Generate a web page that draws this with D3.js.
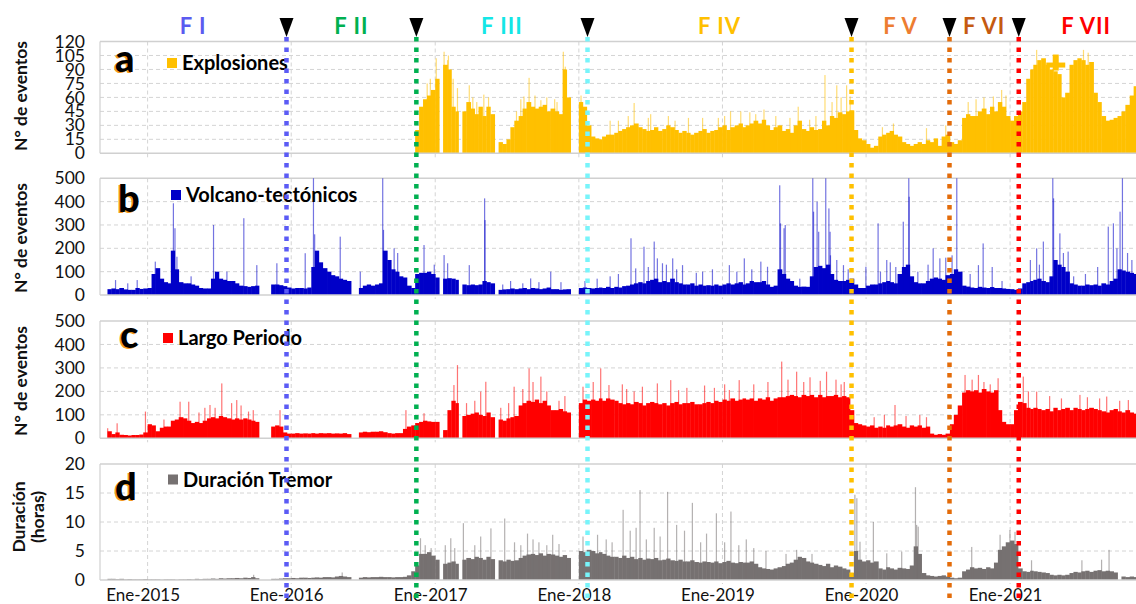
<!DOCTYPE html>
<html>
<head>
<meta charset="utf-8">
<script src="https://cdn.jsdelivr.net/npm/d3@7"></script>
<style>
  body { margin: 0; background: #fff; }
  svg { display: block; font-family: Lato, "Open Sans", sans-serif; }
</style>
</head>
<body>
<svg id="chart" width="1136" height="604"></svg>
<script>
// values are 10-day (dekad) bins: days 1, 11 and 21 of each month, from the start month
var explosionStart = "2016-11-01";
var explosions = [
  null, 25, 50, 58, 62, 68,
  80, null, 95, 90, 50, 45, null, 45, 55, 48, 42, 50, 40, 50, 42, null, 12, 10, 15, 28, 35, 40, 48, 55, 50, 48, 50, 52, 45, 48, 45, 42, 90, 60, null, null,
  55, 50, 30, 18, 16, 15, 18, 20, 20, 22, 24, 26, 28, 30, 32, 28, 26, 24, 25, 28, 24, 26, 30, 28, 25, 22, 24, 22, 20, 22, 24, 26, 22, 24, 25, 28,
  30, 25, 28, 30, 32, 28, 30, 32, 35, 32, 36, 30, 25, 28, 30, 24, 26, 22, 30, 35, 26, 24, 28, 25, 26, 35, 30, 40, 38, 44, 42, 45, 46, 25, 16, 14,
  10, 6, 8, 18, 20, 22, 24, 20, 18, 12, 10, 8, 10, 12, 10, 14, 12, 16, 8, 18, 20, 12, 10, 14, 38, 42, 40, 40, 45, 48, 42, 50, 45, 55, 50, 40,
  35, 40, 45, 55, 80, 90, 95, 100, 102, 95, 90, 88, 85, 60, 65, 95, 100, 102, 100, 95, 98, 65, 55, 40, 35, 36, 38, 40, 45, 52, 62, 72
];
var explosionSpikes = [
  ["2016-12-10", 75], ["2016-12-18", 80], ["2017-01-02", 102], ["2017-01-22", 109], ["2017-01-31", 100],
  ["2017-02-02", 105], ["2017-02-14", 80], ["2017-02-25", 70], ["2017-03-27", 73], ["2017-04-05", 60],
  ["2017-04-15", 55], ["2017-05-03", 63], ["2017-05-15", 60], ["2017-07-25", 45], ["2017-08-05", 58],
  ["2017-08-13", 61], ["2017-08-26", 81], ["2017-09-10", 62], ["2017-09-25", 57], ["2017-10-10", 60],
  ["2017-10-30", 58], ["2017-11-05", 55], ["2017-11-21", 109], ["2017-11-26", 93], ["2018-01-05", 62],
  ["2018-03-20", 35], ["2018-04-10", 35], ["2018-05-05", 40], ["2018-05-20", 54], ["2018-06-25", 38],
  ["2018-07-01", 42], ["2018-08-15", 40], ["2018-09-01", 35], ["2018-10-05", 38], ["2018-11-10", 38],
  ["2018-12-20", 38], ["2019-01-05", 40], ["2019-01-20", 45], ["2019-02-15", 45], ["2019-03-10", 44],
  ["2019-03-25", 42], ["2019-04-15", 47], ["2019-05-15", 40], ["2019-06-20", 38], ["2019-07-11", 50],
  ["2019-08-09", 36], ["2019-08-25", 40], ["2019-09-17", 84], ["2019-10-05", 55], ["2019-10-17", 73],
  ["2019-10-28", 60], ["2019-11-11", 73], ["2019-11-20", 61], ["2020-02-10", 28], ["2020-03-09", 32],
  ["2020-06-01", 27], ["2020-07-20", 30], ["2020-09-15", 55], ["2020-10-05", 58], ["2020-10-25", 60],
  ["2020-11-18", 61], ["2020-12-09", 68], ["2020-12-20", 62], ["2021-03-08", 111], ["2021-07-05", 111],
  ["2021-07-17", 108]
];

var vtStart = "2014-09-01";
var volcanoTectonic = [
  null, null, 25, 28, 25, 30, 24, 22, 22, 30, 26, 28,
  30, 90, 115, 70, 55, 50, 190, 110, 55, 50, 50, 45, 40, 30, 28, 28, 70, 100, 70, 65, 60, 60, 50, 40, 38, 35, 38, 40, null, null, null, 45, 45, 42, 38, 32,
  28, 30, 30, 28, 32, 120, 190, 140, 115, 100, 85, 80, 70, 65, 60, null, null, 30, 40, 45, 40, 45, 50, 190, 150, 110, 100, 80, 75, 40, 30, 90, 95, 95, 100, 90,
  75, null, 70, 72, 70, 65, null, 45, 42, 45, 42, 45, 60, 55, 50, null, 22, 24, 25, 28, 25, 28, 30, 25, 30, 28, 25, 28, 32, 25, 25, 22, 24, 25, null, null,
  30, 32, 30, 28, 30, 32, 30, 35, 30, 35, 32, 38, 40, 45, 50, 55, 50, 60, 65, 70, 55, 60, 55, 70, 55, 50, 45, 45, 50, 40, 45, 40, 42, 40, 45, 40,
  45, 50, 45, 50, 55, 45, 50, 60, 55, 55, 60, 45, 35, 40, 110, 90, 70, 60, 40, 35, 36, 35, 80, 120, 125, 115, 130, 90, 65, 60, 60, 65, 70, 45, 30, 30,
  40, 45, 45, 50, 55, 60, 55, 50, 90, 120, 130, 80, 55, 50, 50, 60, 70, 75, 70, 65, 85, 90, 110, 100, 40, 36, 32, 30, 35, 32, 30, 34, 30, 30, 28, 26,
  25, 22, 28, 50, 55, 60, 65, 70, 60, 55, 80, 150, 130, 120, 100, 50, 45, 40, 40, 45, 42, 45, 40, 50, 45, 60, 70, 110, 105, 100, 95, 90
];
var vtSpikes = [
  ["2014-10-10", 64], ["2014-11-10", 50], ["2014-12-04", 64], ["2015-01-19", 143], ["2015-03-06", 393],
  ["2015-03-10", 286], ["2015-03-15", 164], ["2015-04-20", 80], ["2015-06-16", 300], ["2015-07-20", 100],
  ["2015-09-01", 329], ["2015-10-04", 128], ["2015-11-24", 136], ["2016-02-04", 179], ["2016-02-25", 500],
  ["2016-02-28", 260], ["2016-05-03", 250], ["2016-06-23", 100], ["2016-08-19", 500], ["2016-08-21", 279],
  ["2016-09-17", 200], ["2016-09-26", 180], ["2016-12-02", 214], ["2016-12-28", 130], ["2017-01-22", 171],
  ["2017-01-31", 136], ["2017-03-27", 128], ["2017-05-05", 414], ["2017-05-06", 321], ["2017-06-20", 45],
  ["2017-07-10", 60], ["2017-08-10", 50], ["2017-08-30", 71], ["2017-09-20", 55], ["2017-10-20", 100],
  ["2017-11-15", 55], ["2018-01-15", 60], ["2018-02-15", 70], ["2018-03-20", 80], ["2018-04-10", 90],
  ["2018-05-12", 243], ["2018-05-24", 114], ["2018-06-14", 207], ["2018-06-25", 120], ["2018-07-10", 229],
  ["2018-07-18", 157], ["2018-07-31", 136], ["2018-08-10", 130], ["2018-08-26", 157], ["2018-09-05", 110],
  ["2018-09-20", 128], ["2018-10-25", 95], ["2018-11-10", 100], ["2018-12-05", 110], ["2019-01-17", 128],
  ["2019-02-05", 100], ["2019-02-24", 157], ["2019-03-15", 110], ["2019-04-07", 143], ["2019-04-24", 121],
  ["2019-05-25", 470], ["2019-05-27", 307], ["2019-06-05", 286], ["2019-06-08", 300], ["2019-07-15", 70],
  ["2019-08-17", 500], ["2019-08-19", 357], ["2019-08-28", 400], ["2019-09-01", 271], ["2019-09-19", 500],
  ["2019-09-27", 371], ["2019-09-30", 271], ["2019-10-01", 170], ["2019-10-17", 150], ["2019-11-03", 128],
  ["2019-11-15", 110], ["2019-12-30", 121], ["2020-01-30", 307], ["2020-02-05", 100], ["2020-02-21", 150],
  ["2020-03-01", 140], ["2020-03-15", 120], ["2020-04-03", 314], ["2020-04-17", 500], ["2020-04-18", 421],
  ["2020-05-10", 100], ["2020-06-05", 130], ["2020-06-18", 200], ["2020-07-05", 157], ["2020-07-20", 160],
  ["2020-08-05", 170], ["2020-08-17", 500], ["2020-09-20", 90], ["2020-10-11", 128], ["2020-10-23", 221],
  ["2020-11-15", 120], ["2020-12-10", 60], ["2021-02-20", 150], ["2021-03-08", 200], ["2021-03-15", 130],
  ["2021-03-25", 229], ["2021-04-18", 500], ["2021-04-20", 414], ["2021-05-06", 264], ["2021-05-15", 180],
  ["2021-05-27", 186], ["2021-06-10", 80], ["2021-07-10", 90], ["2021-08-10", 120], ["2021-09-06", 293],
  ["2021-09-19", 307], ["2021-09-28", 200], ["2021-10-06", 357], ["2021-10-12", 500], ["2021-10-25", 180],
  ["2021-11-05", 150]
];

var lpStart = "2014-09-01";
var longPeriod = [
  null, null, 30, 18, 25, 15, 14, 12, 14, 14, 16, 25,
  60, 55, 30, 45, 50, 50, 75, 80, 90, 85, 75, 65, 70, 65, 75, 85, 90, 85, 95, 90, 85, 80, 85, 80, 85, 80, 75, 70, null, null, null, 50, 55, 50, 25, 20,
  20, 22, 20, 21, 20, 22, 20, 22, 21, 22, 20, 21, 20, 22, 18, null, null, 25, 28, 26, 28, 28, 30, 26, 22, 20, 22, 22, 40, 50, 55, 65, 70, 75, 72, 70,
  70, null, 35, 120, 160, 150, null, 95, 100, 105, 110, 100, 95, 110, 90, null, 80, 75, 85, 90, 95, 140, 150, 160, 155, 165, 150, 160, 140, 120, 120, 125, 115, 110, null, null,
  150, 165, 160, 165, 160, 170, 160, 170, 165, 160, 150, 145, 150, 145, 155, 150, 140, 150, 155, 150, 145, 150, 140, 150, 155, 145, 150, 150, 155, 145, 145, 150, 155, 150, 160, 155,
  165, 160, 170, 160, 165, 170, 165, 170, 160, 170, 165, 175, 160, 170, 175, 175, 180, 185, 180, 175, 185, 180, 185, 175, 185, 175, 180, 180, 185, 175, 180, 175, 120, 65, 60, 55,
  50, 55, 45, 50, 45, 55, 50, 55, 60, 50, 45, 55, 50, 55, 45, 50, 20, 15, 18, 15, 20, 60, 100, 140, 195, 205, 200, 205, 195, 210, 200, 195, 205, 120, 70, 60,
  60, 120, 155, 150, 130, 125, 130, 125, 120, 125, 115, 130, 120, 125, 130, 120, 130, 125, 120, 125, 130, 125, 120, 115, 110, 120, 125, 115, 110, 120, 110, 105
];
var lpSpikes = [
  ["2014-09-20", 43], ["2014-10-14", 64], ["2014-12-25", 114], ["2015-02-10", 80], ["2015-03-23", 156],
  ["2015-04-14", 156], ["2015-05-10", 110], ["2015-05-25", 130], ["2015-06-07", 142], ["2015-06-20", 130],
  ["2015-07-07", 234], ["2015-08-01", 150], ["2015-08-14", 163], ["2015-08-25", 140], ["2015-09-13", 114],
  ["2015-09-25", 120], ["2015-12-02", 120], ["2016-10-17", 120], ["2016-12-02", 107], ["2017-02-16", 227],
  ["2017-02-25", 312], ["2017-03-20", 150], ["2017-04-10", 160], ["2017-04-25", 199], ["2017-05-08", 241],
  ["2017-06-15", 130], ["2017-07-05", 150], ["2017-07-19", 220], ["2017-08-10", 210], ["2017-08-26", 298],
  ["2017-09-05", 240], ["2017-09-25", 263], ["2017-10-10", 200], ["2017-11-10", 160], ["2017-11-25", 180],
  ["2018-01-10", 220], ["2018-02-05", 240], ["2018-02-24", 298], ["2018-03-17", 227], ["2018-04-20", 230],
  ["2018-05-01", 210], ["2018-05-20", 200], ["2018-06-10", 220], ["2018-07-18", 234], ["2018-08-21", 248],
  ["2018-09-10", 205], ["2018-10-01", 215], ["2018-11-15", 225], ["2018-12-10", 215], ["2019-01-05", 230],
  ["2019-01-17", 206], ["2019-02-11", 248], ["2019-03-20", 230], ["2019-04-25", 240], ["2019-05-30", 327],
  ["2019-06-15", 250], ["2019-07-07", 284], ["2019-07-25", 240], ["2019-08-10", 260], ["2019-09-05", 245],
  ["2019-09-21", 284], ["2019-10-15", 250], ["2019-10-28", 230], ["2019-11-05", 240], ["2020-01-20", 90],
  ["2020-02-15", 100], ["2020-03-13", 142], ["2020-04-10", 95], ["2020-05-15", 99], ["2020-06-01", 90],
  ["2020-09-07", 270], ["2020-09-25", 250], ["2020-10-11", 270], ["2020-10-25", 240], ["2020-11-10", 230],
  ["2020-11-30", 256], ["2021-02-02", 263], ["2021-02-15", 200], ["2021-03-08", 199], ["2021-04-10", 180],
  ["2021-05-10", 170], ["2021-06-26", 185], ["2021-07-15", 175], ["2021-08-15", 170], ["2021-09-02", 178],
  ["2021-10-05", 160], ["2021-10-27", 163]
];

var tremorStart = "2014-09-01";
var tremor = [
  null, null, 0.2, 0.2, 0.15, 0.2, 0.1, 0.15, 0.1, 0.1, 0.1, 0.15,
  0.1, 0.1, 0.1, 0.05, 0.1, 0.1, 0.1, 0.05, 0.1, 0.1, 0.15, 0.1, 0.2, 0.15, 0.2, 0.2, 0.25, 0.2, 0.3, 0.25, 0.3, 0.3, 0.35, 0.3, 0.4, 0.35, 0.5, 0.3, null, null, null, 0.2, 0.2, 0.25, 0.3, 0.3,
  0.35, 0.3, 0.4, 0.4, 0.35, 0.4, 0.45, 0.4, 0.5, 0.5, 0.45, 0.6, 0.7, 0.6, 0.5, null, null, 0.4, 0.5, 0.45, 0.5, 0.5, 0.55, 0.5, 0.5, 0.45, 0.5, 0.5, 0.55, 0.8, 1.5, 2.5, 4.5, 4.5, 4.8, 4.2,
  3.5, null, 2.8, 3, 3.2, 2.8, null, 3.5, 3.8, 3.6, 4, 3.8, 3.5, 4, 3.6, null, 3.4, 3.2, 3.5, 3.3, 3.4, 3.8, 4.2, 4.4, 4.5, 4.3, 4.6, 4.2, 4.5, 4.4, 4.2, 4, 4.3, 3.8, null, null,
  5, 4.8, 5.2, 5, 4.6, 4.8, 4.5, 4.2, 4, 4, 3.8, 4.2, 3.8, 4, 3.6, 3.8, 3.5, 3.7, 3.6, 3.8, 3.4, 3.5, 3.7, 3.4, 3.3, 3.5, 3.2, 3.2, 3.4, 3.1, 3, 3.2, 3.1, 3, 3.2, 2.9,
  3.1, 3.3, 3, 2.9, 3.1, 3, 3, 3.2, 2.8, 2.2, 2, 1.9, 1.8, 2, 2.2, 2.4, 2.8, 3, 3.5, 4, 3.8, 3.2, 3, 2.8, 2.6, 2.4, 2.8, 2.2, 2.5, 2.3, 2, 1.8, 1.2, 5, 3.5, 3.2,
  3.4, 3, 3.2, 2, 1.8, 2.2, 2, 1.8, 2.1, 2, 1.9, 2.5, 5.8, 4.5, 1.2, 0.8, 0.7, 0.6, 0.7, 0.8, 0.6, 0.4, 0.3, 0.4, 1.5, 1.8, 2.2, 2, 2.1, 1.9, 2.2, 2, 3, 5.2, 5.8, 6.5,
  6.8, 6.2, 2, 1.5, 1.4, 1.6, 1.5, 1.4, 1.3, 1.2, 0.9, 0.8, 0.9, 0.8, 0.9, 1.2, 1.4, 1.3, 1.5, 1.6, 1.4, 1.6, 1.7, 1.5, 1.6, 1.5, 1.3, null, 0.6, 0.5, 0.6, 0.5
];
var tremorSpikes = [
  ["2015-09-26", 0.9], ["2016-05-08", 1.3], ["2016-11-23", 7.2], ["2016-12-05", 6.0], ["2016-12-20", 5.5],
  ["2017-01-25", 6.0], ["2017-02-08", 7.2], ["2017-02-18", 5.5], ["2017-03-12", 9.8], ["2017-04-10", 6.0],
  ["2017-04-25", 7.5], ["2017-05-21", 8.9], ["2017-06-25", 10.6], ["2017-07-20", 6.5], ["2017-08-05", 6.0],
  ["2017-08-22", 8.0], ["2017-09-05", 7.0], ["2017-09-20", 6.5], ["2017-10-10", 6.0], ["2017-10-25", 7.8],
  ["2017-11-10", 6.2], ["2018-01-10", 7.5], ["2018-02-16", 7.8], ["2018-03-10", 7.0], ["2018-03-25", 6.5],
  ["2018-04-22", 12.1], ["2018-05-10", 8.5], ["2018-05-25", 9.0], ["2018-06-04", 15.5], ["2018-06-20", 7.0],
  ["2018-07-10", 9.0], ["2018-07-25", 7.5], ["2018-08-13", 15.2], ["2018-09-05", 9.5], ["2018-09-25", 8.5],
  ["2018-10-15", 13.3], ["2018-11-05", 6.5], ["2018-11-20", 8.0], ["2018-12-15", 11.5], ["2019-01-05", 6.5],
  ["2019-01-21", 11.8], ["2019-02-10", 6.0], ["2019-03-01", 7.0], ["2019-03-20", 5.5], ["2019-04-20", 5.0],
  ["2019-06-10", 4.5], ["2019-07-07", 5.2], ["2019-08-15", 4.5], ["2019-12-02", 14.7], ["2019-12-07", 14.1],
  ["2019-12-15", 6.6], ["2020-01-18", 10.0], ["2020-02-21", 4.6], ["2020-03-30", 4.9], ["2020-05-04", 16.0],
  ["2020-05-07", 9.5], ["2020-05-11", 9.2], ["2020-09-24", 5.7], ["2020-12-05", 7.8], ["2020-12-30", 8.6],
  ["2021-01-12", 8.3], ["2021-02-23", 3.4], ["2021-07-01", 3.4], ["2021-09-08", 5.2], ["2021-08-20", 3.5]
];

var phaseNames = ["F I", "F II", "F III", "F IV", "F V", "F VI", "F VII"];
var phaseColors = ["#5b5bf0", "#00b050", "#14e6e6", "#ffc000", "#ed7d31", "#c55a11", "#ff0000"];
var phaseBounds = ["2015-12-20", "2016-11-14", "2018-01-23", "2019-11-25", "2020-07-31", "2021-01-23"];
var boundColors = ["#5b5bf5", "#00b050", "#78f4fa", "#ffc000", "#e36c0a", "#ff0000"];
var crossMark = ["2021-04-27", 106];

var parse = d3.utcParse("%Y-%m-%d");
var svg = d3.select("#chart");

var x = d3.scaleUtc()
  .domain([parse("2014-09-02"), parse("2021-11-17")])
  .range([100, 1136]);

var panels = [
  {letter: "a", label: "Explosiones", color: "#ffc000", top: 41.5, bottom: 153.3, max: 120, step: 15,
   start: explosionStart, values: explosions, spikes: explosionSpikes,
   legendX: 167, legendY: 63, letterX: 115, letterY: 72, title: ["N° de eventos"], titleY: 96},
  {letter: "b", label: "Volcano-tectónicos", color: "#0000c8", top: 178.3, bottom: 295, max: 500, step: 100,
   start: vtStart, values: volcanoTectonic, spikes: vtSpikes,
   legendX: 171, legendY: 195, letterX: 118, letterY: 212, title: ["N° de eventos"], titleY: 238},
  {letter: "c", label: "Largo Periodo", color: "#ff0000", top: 321, bottom: 438.3, max: 500, step: 100,
   start: lpStart, values: longPeriod, spikes: lpSpikes,
   legendX: 163, legendY: 338, letterX: 120, letterY: 348, title: ["N° de eventos"], titleY: 381},
  {letter: "d", label: "Duración Tremor", color: "#767171", top: 464, bottom: 580, max: 20, step: 5,
   start: tremorStart, values: tremor, spikes: tremorSpikes,
   legendX: 168, legendY: 479.5, letterX: 115, letterY: 500, title: ["Duración", "(horas)"], titleY: 517}
];

function dekads(start, values) {
  var t0 = parse(start);
  return values.map(function(v, i) {
    var m = d3.utcMonth.offset(t0, Math.floor(i / 3));
    var k = i % 3;
    var from = d3.utcDay.offset(m, k * 10);
    var to = k < 2 ? d3.utcDay.offset(m, k * 10 + 10) : d3.utcMonth.offset(m, 1);
    return {from: from, to: to, value: v};
  }).filter(function(d) { return d.value != null; });
}

svg.append("defs").append("clipPath")
  .attr("id", "plotClip")
  .append("rect")
  .attr("x", 100).attr("y", 0).attr("width", 1036).attr("height", 604);

var years = x.ticks(d3.utcYear.every(1));

function drawPanel(p) {
  var y = d3.scaleLinear().domain([0, p.max]).range([p.bottom, p.top]);
  var ticks = d3.range(0, p.max + p.step / 2, p.step);
  var g = svg.append("g").attr("class", "panel");

  // dashed grid
  g.selectAll("line.hgrid")
    .data(ticks.filter(function(t) { return t > 0 && t < p.max; }))
    .enter().append("line")
    .attr("x1", 100).attr("x2", 1136)
    .attr("y1", function(d) { return y(d); })
    .attr("y2", function(d) { return y(d); })
    .attr("stroke", "#d4d4d4").attr("stroke-width", 1)
    .attr("stroke-dasharray", "4,3");

  g.selectAll("line.vgrid")
    .data(years)
    .enter().append("line")
    .attr("x1", function(d) { return x(d); })
    .attr("x2", function(d) { return x(d); })
    .attr("y1", p.top).attr("y2", p.bottom + 4)
    .attr("stroke", "#d4d4d4").attr("stroke-width", 1)
    .attr("stroke-dasharray", "4,3");

  // frame lines
  g.append("line")
    .attr("x1", 100).attr("x2", 1136).attr("y1", y(p.max)).attr("y2", y(p.max))
    .attr("stroke", "#d0d0d0").attr("stroke-width", 1.6);
  g.append("line")
    .attr("x1", 100).attr("x2", 100).attr("y1", p.top).attr("y2", p.bottom)
    .attr("stroke", "#d0d0d0").attr("stroke-width", 1.2);

  var plot = g.append("g").attr("clip-path", "url(#plotClip)");

  plot.selectAll("rect.bar")
    .data(dekads(p.start, p.values))
    .enter().append("rect")
    .attr("class", "bar")
    .attr("x", function(d) { return x(d.from); })
    .attr("width", function(d) { return x(d.to) - x(d.from) + 0.4; })
    .attr("y", function(d) { return y(d.value); })
    .attr("height", function(d) { return y(0) - y(d.value); })
    .attr("fill", p.color);

  plot.selectAll("rect.spike")
    .data(p.spikes)
    .enter().append("rect")
    .attr("class", "spike")
    .attr("x", function(d) { return x(parse(d[0])); })
    .attr("width", 1.2)
    .attr("y", function(d) { return y(d[1]); })
    .attr("height", function(d) { return y(0) - y(d[1]); })
    .attr("fill", p.color)
    .attr("opacity", 0.55);

  g.append("line")
    .attr("x1", 100).attr("x2", 1136).attr("y1", y(0)).attr("y2", y(0))
    .attr("stroke", "#d0d0d0").attr("stroke-width", 1.6);

  // y axis labels
  var axis = d3.axisLeft(y).tickValues(ticks).tickSize(0).tickPadding(15);
  var ag = g.append("g").attr("transform", "translate(100,0)").call(axis);
  ag.select(".domain").remove();
  ag.selectAll("text")
    .attr("font-family", "Lato, sans-serif")
    .attr("font-size", 17.5)
    .attr("fill", "#111");

  // axis title
  var titleX = p.title.length > 1 ? [25, 44] : [27];
  p.title.forEach(function(t, i) {
    g.append("text")
      .attr("transform", "translate(" + titleX[i] + "," + p.titleY + ") rotate(-90)")
      .attr("text-anchor", "middle")
      .attr("font-weight", 700)
      .attr("font-size", 17.5)
      .attr("fill", "#111")
      .text(t);
  });

  // panel letter with orange shade
  g.append("text")
    .attr("x", p.letterX - 1.6).attr("y", p.letterY + 1)
    .attr("font-size", 38).attr("font-weight", 900)
    .attr("fill", "#f29a1f")
    .text(p.letter);
  g.append("text")
    .attr("x", p.letterX).attr("y", p.letterY)
    .attr("font-size", 38).attr("font-weight", 900)
    .attr("fill", "#000")
    .text(p.letter);

  // legend
  g.append("rect")
    .attr("x", p.legendX).attr("y", p.legendY - 5)
    .attr("width", 10).attr("height", 10)
    .attr("fill", p.color);
  g.append("text")
    .attr("x", p.legendX + 15).attr("y", p.legendY + 7)
    .attr("font-size", 20).attr("font-weight", 700)
    .attr("fill", "#000")
    .text(p.label);

  return y;
}

var scales = panels.map(drawPanel);

// cross marker in panel a
var ya = scales[0];
var cx = x(parse(crossMark[0])), cy = ya(crossMark[1]);
svg.append("rect").attr("x", cx - 3).attr("y", cy).attr("width", 6).attr("height", 16).attr("fill", "#ffc000");
svg.append("rect").attr("x", cx - 9.5).attr("y", cy + 8).attr("width", 19).attr("height", 5).attr("fill", "#ffc000");

// x axis labels
var xAxis = d3.axisBottom(x)
  .tickValues(years)
  .tickSize(0)
  .tickPadding(9)
  .tickFormat(function(d) { return "Ene-" + d.getUTCFullYear(); });
var xg = svg.append("g").attr("transform", "translate(0,580)").call(xAxis);
xg.select(".domain").remove();
xg.selectAll("text")
  .attr("x", -5)
  .attr("font-family", "Lato, sans-serif")
  .attr("font-size", 17)
  .attr("fill", "#111");

// phase boundaries
var bounds = phaseBounds.map(parse);
svg.selectAll("line.phase")
  .data(bounds)
  .enter().append("line")
  .attr("class", "phase")
  .attr("x1", function(d) { return x(d); })
  .attr("x2", function(d) { return x(d); })
  .attr("y1", 37).attr("y2", 604)
  .attr("stroke", function(d, i) { return boundColors[i]; })
  .attr("stroke-width", 4.5)
  .attr("stroke-dasharray", "4.5,6");

svg.selectAll("path.tri")
  .data(bounds)
  .enter().append("path")
  .attr("class", "tri")
  .attr("d", function(d) {
    var px = x(d);
    return "M" + (px - 7) + ",18L" + (px + 7) + ",18L" + px + ",37Z";
  })
  .attr("fill", "#000");

var edges = [x.range()[0]].concat(bounds.map(x)).concat([x(parse("2022-01-01"))]);
svg.selectAll("text.phase")
  .data(phaseNames)
  .enter().append("text")
  .attr("class", "phase")
  .attr("x", function(d, i) { return (edges[i] + edges[i + 1]) / 2; })
  .attr("y", 34)
  .attr("text-anchor", "middle")
  .attr("font-size", 22)
  .attr("font-weight", 700)
  .attr("letter-spacing", 1)
  .attr("fill", function(d, i) { return phaseColors[i]; })
  .text(function(d) { return d; });
</script>
</body>
</html>
